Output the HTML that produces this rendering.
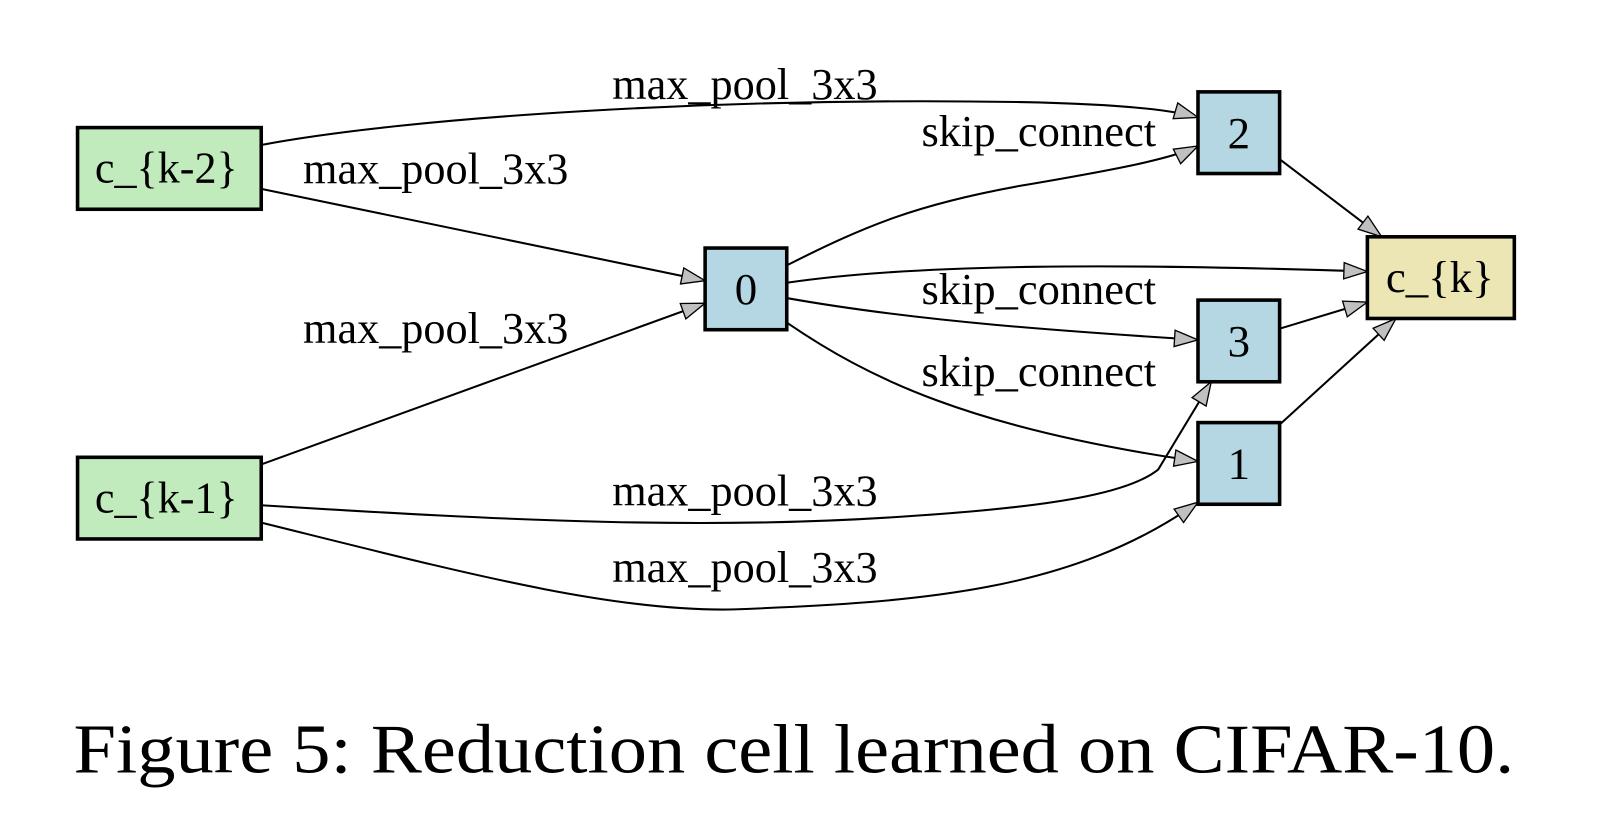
<!DOCTYPE html>
<html><head><meta charset="utf-8"><style>
html,body{margin:0;padding:0;background:#fff;}
svg{display:block;}
text{font-family:"Liberation Serif",serif;fill:#000;}
</style></head><body>
<svg width="1598" height="836" viewBox="0 0 1566 819" preserveAspectRatio="none" xmlns="http://www.w3.org/2000/svg">
<defs>
<marker id="a" markerWidth="26" markerHeight="20" refX="24" refY="10" orient="auto" markerUnits="userSpaceOnUse">
<path d="M1,2 L24,10 L1,18 Z" fill="#c0c0c0" stroke="#000" stroke-width="1.3"/>
</marker>
</defs>
<g fill="none" stroke="#000" stroke-width="2" marker-end="url(#a)">
<path d="M256,142 C400,115 700,95 1000,100 C1100,102 1150,108 1174,115"/>
<path d="M256,185 L691,275"/>
<path d="M256,455 L691,297"/>
<path d="M771,260 C850,220 900,200 1000,182 C1100,165 1150,155 1174,143"/>
<path d="M771,277 C900,258 1100,258 1340,266"/>
<path d="M771,292 C900,315 1050,325 1174,333"/>
<path d="M771,316 C850,370 950,420 1174,452"/>
<path d="M256,495 C500,510 700,520 900,505 C1050,495 1110,480 1135,460 L1187,374"/>
<path d="M256,512 C450,560 600,600 720,597 C900,590 1050,580 1174,492"/>
<path d="M1254,156 L1354,232"/>
<path d="M1254,322 L1340,296"/>
<path d="M1254,416 L1368,312"/>
</g>
<g stroke="#000" stroke-width="3.5">
<rect x="76" y="125" width="180" height="80" fill="#c1ebbd"/>
<rect x="76" y="448" width="180" height="80" fill="#c1ebbd"/>
<rect x="691" y="243" width="80" height="80" fill="#b4d7e3"/>
<rect x="1174" y="90" width="80" height="80" fill="#b4d7e3"/>
<rect x="1174" y="294" width="80" height="80" fill="#b4d7e3"/>
<rect x="1174" y="414" width="80" height="80" fill="#b4d7e3"/>
<rect x="1340" y="232" width="144" height="80" fill="#ebe6b4"/>
</g>
<g font-size="44" text-anchor="middle">
<text x="163" y="179" textLength="140" lengthAdjust="spacingAndGlyphs">c_{k-2}</text>
<text x="163" y="502" textLength="140" lengthAdjust="spacingAndGlyphs">c_{k-1}</text>
<text x="731" y="298">0</text>
<text x="1214" y="145">2</text>
<text x="1214" y="349">3</text>
<text x="1214" y="469">1</text>
<text x="1411" y="286">c_{k}</text>
</g>
<g font-size="44">
<text x="600" y="97" textLength="260" lengthAdjust="spacingAndGlyphs">max_pool_3x3</text>
<text x="297" y="180" textLength="260" lengthAdjust="spacingAndGlyphs">max_pool_3x3</text>
<text x="297" y="336" textLength="260" lengthAdjust="spacingAndGlyphs">max_pool_3x3</text>
<text x="903" y="143" textLength="230" lengthAdjust="spacingAndGlyphs">skip_connect</text>
<text x="903" y="298" textLength="230" lengthAdjust="spacingAndGlyphs">skip_connect</text>
<text x="903" y="378" textLength="230" lengthAdjust="spacingAndGlyphs">skip_connect</text>
<text x="600" y="495" textLength="260" lengthAdjust="spacingAndGlyphs">max_pool_3x3</text>
<text x="600" y="570" textLength="260" lengthAdjust="spacingAndGlyphs">max_pool_3x3</text>
</g>
<text x="72" y="757" font-size="68" textLength="1412" lengthAdjust="spacingAndGlyphs">Figure 5: Reduction cell learned on CIFAR-10.</text>
</svg>
</body></html>
